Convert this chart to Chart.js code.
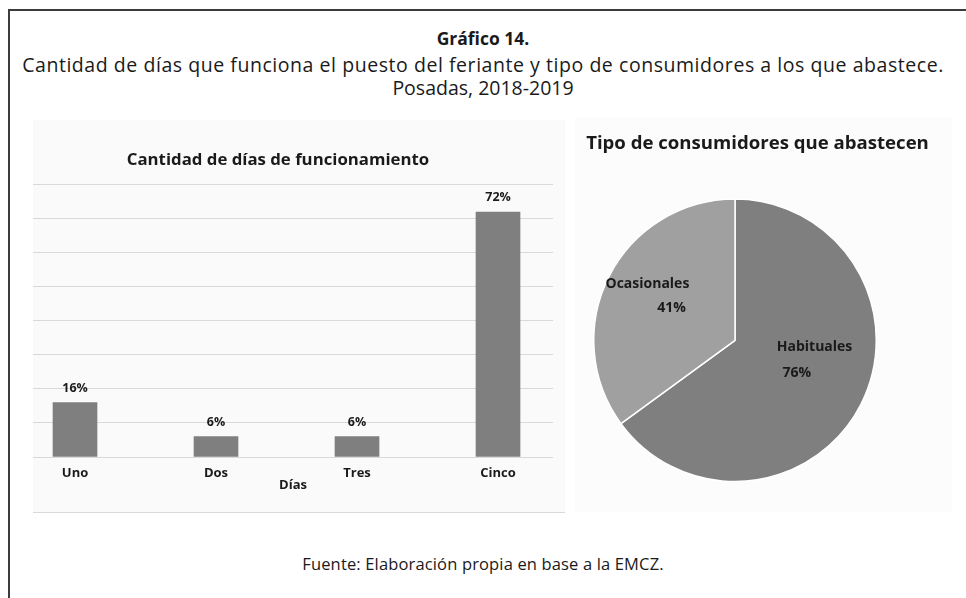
<!DOCTYPE html>
<html lang="es">
<head>
<meta charset="utf-8">
<title>Gráfico 14</title>
<script src="https://cdn.jsdelivr.net/npm/chart.js@4.4.1/dist/chart.umd.min.js"></script>
<style>
  html, body { margin: 0; padding: 0; background: #ffffff; }
  body { width: 966px; height: 598px; position: relative; overflow: hidden;
         font-family: "Open Sans", sans-serif; color: #1a1a1a; }
  .frame-top  { position: absolute; left: 8px; top: 9px; width: 958px; height: 2px; background: #3c3c3c; }
  .frame-left { position: absolute; left: 8px; top: 9px; width: 2px; height: 589px; background: #3c3c3c; }
  .txt { position: absolute; left: 0; width: 966px; text-align: center; white-space: nowrap; line-height: 1; }
  #t1  { top: 30px; font-size: 17.5px; font-weight: 700; }
  #t2  { top: 55px; font-size: 19.5px; letter-spacing: 0.55px; }
  #t3  { top: 78px; font-size: 19.5px; }
  #src { top: 556px; font-size: 16.5px; letter-spacing: 0.15px; }
  #barBox { position: absolute; left: 33px; top: 120px; width: 532px; height: 392px;
            background: #fafafa; border-bottom: 1px solid #d9d9d9; }
  #pieBox { position: absolute; left: 575px; top: 118px; width: 377px; height: 394px; background: #fcfcfc; }
  .chart-title { position: absolute; white-space: nowrap; text-align: center; line-height: 1; font-weight: 700; z-index: 2; }
  #barTitle { left: 0; width: 556px; top: 151px; font-size: 16.8px; }
  #pieTitle { left: 575px; width: 365px; top: 133px; font-size: 18.6px; }
  canvas { display: block; }
</style>
</head>
<body>
<div class="frame-top"></div>
<div class="frame-left"></div>
<div class="txt" id="t1">Gráfico 14.</div>
<div class="txt" id="t2">Cantidad de días que funciona el puesto del feriante y tipo de consumidores a los que abastece.</div>
<div class="txt" id="t3">Posadas, 2018-2019</div>

<div id="barBox"><canvas id="barChart" width="532" height="392"></canvas></div>
<div id="pieBox"><canvas id="pieChart" width="365" height="394"></canvas></div>
<div class="chart-title" id="barTitle">Cantidad de días de funcionamiento</div>
<div class="chart-title" id="pieTitle">Tipo de consumidores que abastecen</div>

<div class="txt" id="src">Fuente: Elaboración propia en base a la EMCZ.</div>

<script>
// Days per week the stall is open (share of stallholders, %)
const dayLabels = ['Uno', 'Dos', 'Tres', 'Cinco'];
const dayShares = [16, 6, 6, 72];

// Type of customers supplied (%)
const consumerLabels = ['Habituales', 'Ocasionales'];
const consumerShares = [76, 41];

const FONT = "'Open Sans', sans-serif";
const INK = '#1a1a1a';
Chart.defaults.font.family = FONT;
Chart.defaults.color = INK;

// Percentage printed above each bar
const barValueLabels = {
  id: 'barValueLabels',
  afterDatasetsDraw(chart) {
    const { ctx } = chart;
    const meta = chart.getDatasetMeta(0);
    ctx.save();
    ctx.font = `bold 12.5px ${FONT}`;
    ctx.fillStyle = INK;
    ctx.textAlign = 'center';
    ctx.textBaseline = 'middle';
    meta.data.forEach((bar, i) => {
      ctx.fillText(dayShares[i] + '%', bar.x, bar.y - 14.5);
    });
    ctx.restore();
  }
};

// Category name and percentage placed inside each slice
const sliceLabels = {
  id: 'sliceLabels',
  afterDatasetsDraw(chart, args, opts) {
    const { ctx } = chart;
    const meta = chart.getDatasetMeta(0);
    ctx.save();
    ctx.font = `bold 14px ${FONT}`;
    ctx.fillStyle = INK;
    ctx.textAlign = 'center';
    ctx.textBaseline = 'middle';
    meta.data.forEach((arc, i) => {
      const { x, y, outerRadius: r } = arc.getProps(['x', 'y', 'outerRadius'], true);
      const [nx, ny, px, py] = opts.spots[i];
      ctx.fillText(consumerLabels[i], x + nx * r, y + ny * r);
      ctx.fillText(consumerShares[i] + '%', x + px * r, y + py * r);
    });
    ctx.restore();
  }
};

new Chart(document.getElementById('barChart'), {
  type: 'bar',
  data: {
    datasets: [{
      data: dayShares.map((v, i) => ({ x: i, y: v })),
      backgroundColor: '#7f7f7f',
      borderWidth: 0,
      barThickness: 44
    }]
  },
  options: {
    responsive: false,
    animation: false,
    layout: { padding: { left: 0, right: 12, top: 64.8, bottom: 0 } },
    plugins: {
      legend: { display: false },
      tooltip: { enabled: false },
      title: { display: false }
    },
    scales: {
      x: {
        type: 'linear',
        offset: false,
        min: -0.298,
        max: 3.39,
        grid: { display: false, drawTicks: false },
        border: { display: false },
        ticks: {
          stepSize: 1,
          includeBounds: false,
          autoSkip: false,
          maxRotation: 0,
          padding: 10,
          color: INK,
          font: { size: 13, weight: 'bold', lineHeight: 1 },
          callback: v => (dayLabels[v] !== undefined ? dayLabels[v] : '')
        },
        title: {
          display: true,
          text: 'Días',
          color: INK,
          font: { size: 13, weight: 'bold', lineHeight: 1 },
          padding: { top: 0, bottom: 20 }
        },
        afterFit: scale => { scale.height = 55; }
      },
      y: {
        min: 0,
        max: 80,
        ticks: { display: false, stepSize: 10 },
        grid: { color: '#d9d9d9', lineWidth: 1, drawTicks: false },
        border: { display: false }
      }
    }
  },
  plugins: [barValueLabels]
});

new Chart(document.getElementById('pieChart'), {
  type: 'pie',
  data: {
    labels: consumerLabels,
    datasets: [{
      data: consumerShares,
      backgroundColor: ['#7f7f7f', '#a0a0a0'],
      borderColor: '#ffffff',
      borderWidth: 1.5
    }]
  },
  options: {
    responsive: false,
    animation: false,
    layout: { padding: { left: 18, right: 63, top: 80.1, bottom: 29.5 } },
    plugins: {
      legend: { display: false },
      tooltip: { enabled: false },
      title: { display: false },
      sliceLabels: {
        spots: [
          [0.563, 0.046, 0.437, 0.229],
          [-0.62, -0.398, -0.45, -0.229]
        ]
      }
    }
  },
  plugins: [sliceLabels]
});
</script>
</body>
</html>
